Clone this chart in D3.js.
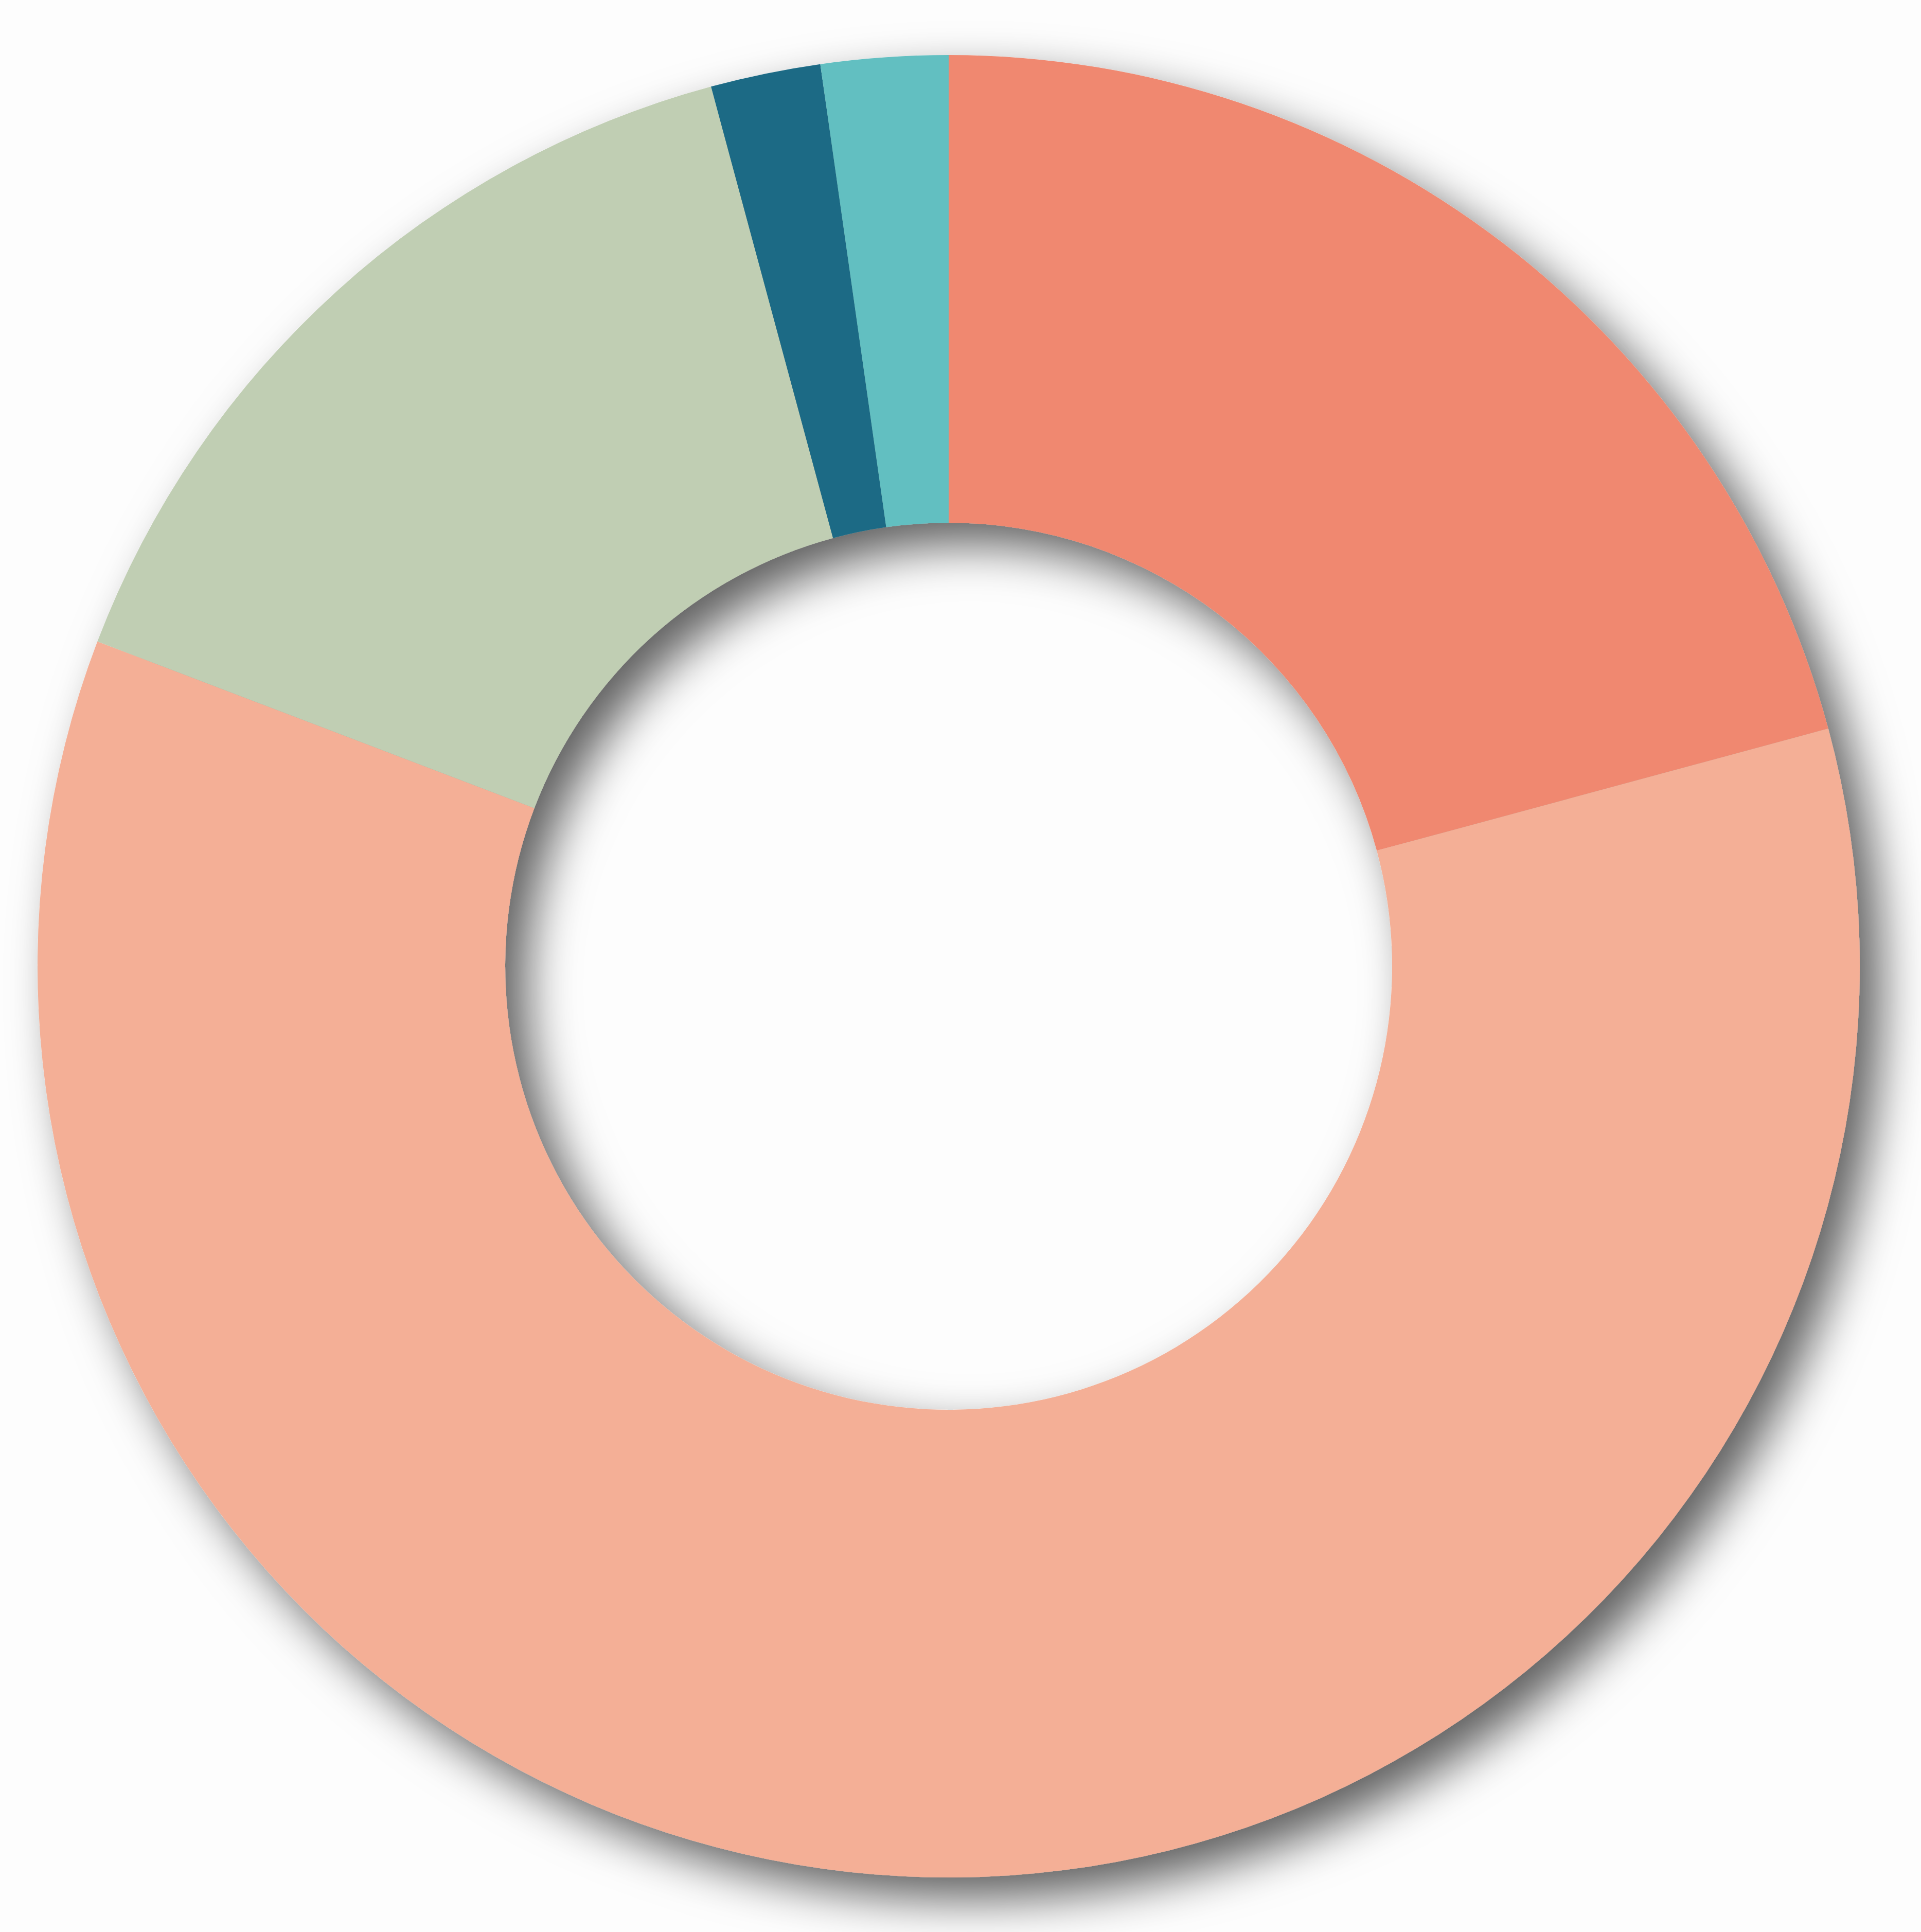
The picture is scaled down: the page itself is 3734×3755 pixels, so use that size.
<!DOCTYPE html>
<html>
<head>
<meta charset="utf-8">
<script src="https://cdn.jsdelivr.net/npm/d3@7"></script>
<style>
  html, body { margin: 0; padding: 0; background: #fdfdfd; }
  svg { display: block; }
</style>
</head>
<body>
<script>
const categories = ["Segment A", "Segment B", "Segment C", "Segment D", "Segment E"];
const values = [20.8, 60.0, 15.0, 1.95, 2.25];
const colors = ["#F08870", "#F4AF96", "#C0CEB3", "#1A6B85", "#62BFC1"];

const W = 3734, H = 3755;
const cx = 1844, cy = 1878;
const outerR = 1771, innerR = 862;

const svg = d3.select("body").append("svg")
  .attr("width", W).attr("height", H);

svg.append("rect").attr("width", W).attr("height", H).attr("fill", "#fdfdfd");

const defs = svg.append("defs");
const f = defs.append("filter").attr("id", "shadow")
  .attr("x", "-20%").attr("y", "-20%").attr("width", "140%").attr("height", "140%");
f.append("feDropShadow")
  .attr("dx", 42).attr("dy", 42)
  .attr("stdDeviation", 46)
  .attr("flood-color", "#000")
  .attr("flood-opacity", 0.62);

const color = d3.scaleOrdinal().domain(categories).range(colors);

const pie = d3.pie().sort(null).value(d => d.value);
const arc = d3.arc().innerRadius(innerR).outerRadius(outerR);

const data = categories.map((c, i) => ({ name: c, value: values[i] }));

const g = svg.append("g")
  .attr("transform", `translate(${cx},${cy})`)
  .attr("filter", "url(#shadow)");

g.selectAll("path")
  .data(pie(data))
  .join("path")
  .attr("d", arc)
  .attr("fill", d => color(d.data.name));
</script>
</body>
</html>
